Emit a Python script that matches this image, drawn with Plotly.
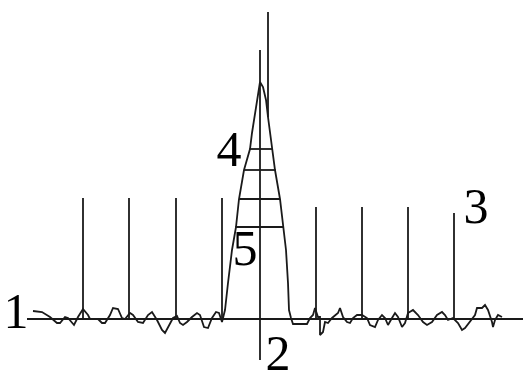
import plotly.graph_objects as go

# Signal trace (x position, amplitude above baseline)
signal_x = [33, 42, 50, 57, 60, 65, 68, 72, 74, 78, 83, 88, 90, 98, 102, 105, 110, 113, 118, 122,
            125, 130, 133, 138, 143, 148, 152, 157, 162, 165, 168, 173, 177, 180, 183, 187, 192, 197,
            200, 204, 208, 212, 216, 219, 222,
            223, 225, 228, 232, 236, 239, 244, 250, 252, 257, 260, 263, 266, 268, 270, 272, 275, 280,
            283, 286, 288, 289, 291,
            293, 307, 310, 313, 315, 318, 320, 320, 323, 325, 328, 332, 335, 338, 340, 343, 347, 350,
            353, 357, 362, 367, 370, 375, 378, 382, 385, 388, 392, 395, 398, 402, 405, 408, 413, 418,
            423, 427, 432, 437, 442, 445, 448, 453, 458, 462, 465, 470, 475, 477, 482, 485, 488, 492,
            493, 495, 498, 502]
signal_y = [8, 7, 2, -4, -4, 2, 1, -4, -6, 2, 10, 4, 0, 0, -4, -4, 4, 11, 10, 1,
            0, 6, 4, -3, -4, 4, 7, -1, -11, -14, -8, 1, 3, -4, -6, -3, 2, 6,
            4, -8, -9, 1, 7, 6, -3,
            1, 9, 36, 69, 92, 120, 149, 170, 186, 219, 237, 232, 219, 202, 186, 170, 149, 120,
            92, 69, 36, 9, 1,
            -5, -5, 1, 4, 11, 2, 2, -16, -13, -3, -4, 1, 4, 6, 11, 2, -3, -4,
            1, 4, 4, 1, -6, -8, -1, 4, 1, -6, 1, 6, 2, -8, -4, 6, 9, 4,
            -3, -6, -3, 4, 7, 4, -1, 1, -4, -11, -9, -3, 4, 11, 11, 14, 9, -3,
            -8, -1, 4, 2]

# Vertical reference spikes
spike_x = [83, 129, 176, 222, 316, 362, 408, 454]
spike_top = [121, 121, 121, 121, 112, 112, 112, 106]

# Rungs across the central peak
rung_y = [170, 149, 120, 92]
rung_left = [250, 244, 239, 236]
rung_right = [272, 275, 280, 283]

# Axes
baseline_x = [27, 523]
axis_x = 260
axis_y = [-41, 269]
tall_x = 268
tall_y = [202, 307]

# Labels
label_text = ["1", "2", "3", "4", "5"]
label_x = [16, 278, 476, 229, 245]
label_y = [4, -38, 109, 166, 67]

ink = "#1a1a1a"
lw = 1.8

fig = go.Figure()

fig.add_trace(go.Scatter(x=baseline_x, y=[0, 0], mode="lines",
                         line=dict(color=ink, width=lw), hoverinfo="skip"))
fig.add_trace(go.Scatter(x=[axis_x, axis_x], y=axis_y, mode="lines",
                         line=dict(color=ink, width=lw), hoverinfo="skip"))
fig.add_trace(go.Scatter(x=[tall_x, tall_x], y=tall_y, mode="lines",
                         line=dict(color=ink, width=lw), hoverinfo="skip"))

sx, sy = [], []
for x, t in zip(spike_x, spike_top):
    sx += [x, x, None]
    sy += [0, t, None]
fig.add_trace(go.Scatter(x=sx, y=sy, mode="lines",
                         line=dict(color=ink, width=lw), hoverinfo="skip"))

rx, ry = [], []
for y, a, b in zip(rung_y, rung_left, rung_right):
    rx += [a, b, None]
    ry += [y, y, None]
fig.add_trace(go.Scatter(x=rx, y=ry, mode="lines",
                         line=dict(color=ink, width=lw), hoverinfo="skip"))

fig.add_trace(go.Scatter(x=signal_x, y=signal_y, mode="lines",
                         line=dict(color=ink, width=lw), hoverinfo="skip"))

fig.add_trace(go.Scatter(x=label_x, y=label_y, mode="text", text=label_text,
                         textposition="middle center",
                         textfont=dict(family="Liberation Serif", size=50, color="#000000"),
                         hoverinfo="skip"))

fig.update_layout(
    width=523, height=376,
    margin=dict(l=0, r=0, t=0, b=0),
    paper_bgcolor="white", plot_bgcolor="white",
    showlegend=False,
    xaxis=dict(range=[0, 523], visible=False, fixedrange=True),
    yaxis=dict(range=[-57, 319], visible=False, fixedrange=True),
)

fig.write_html("out.html", config={"displayModeBar": False},
               post_script="document.body.style.margin='0';document.body.style.overflow='hidden';")
